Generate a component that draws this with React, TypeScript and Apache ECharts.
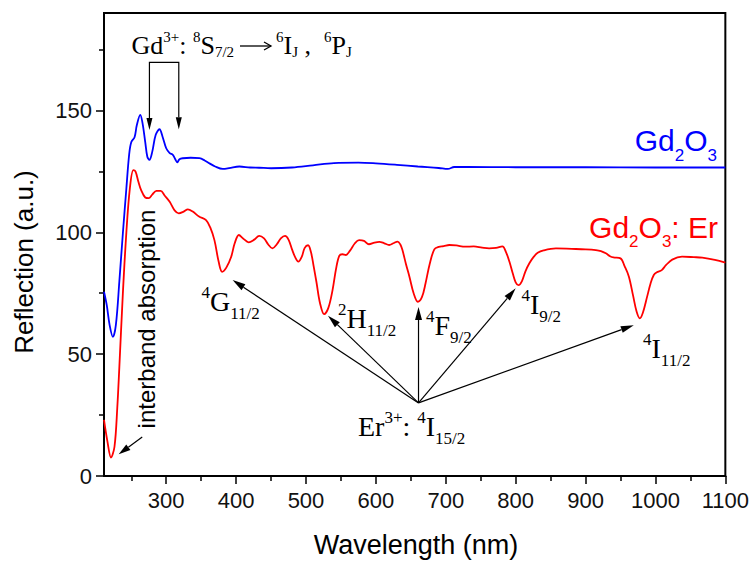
import React, { useEffect, useRef } from "react";
import * as echarts from "echarts";

// ---------- data ----------
const blueWavelength = [
  211, 215, 219, 223.7, 228, 233, 238, 243, 247, 250, 254.7, 258, 262.9, 266, 270, 273, 276, 280, 285,
  290.4, 295, 300, 305, 309.5, 313, 315.7, 319, 323.7, 335, 347.6, 355, 362, 370, 380.9, 390, 404.7,
  420, 433, 450, 480, 510, 540, 575, 600, 630, 660, 690, 703, 712, 730, 800, 900, 1000, 1100,
];
const blueReflection = [
  75.6, 70, 62, 57.1, 62, 80, 99.6, 118, 132, 137, 139, 144, 148.2, 145, 137, 131, 129.7, 133, 140,
  142.3, 139, 134.5, 132.5, 131.8, 130, 128.7, 130, 130.4, 130.6, 130.4, 129.5, 128.3, 127, 126, 126.3, 127,
  126.6, 126.5, 126.3, 126.6, 127.5, 128.4, 128.6, 128.3, 127.7, 127, 126.4, 126, 126.8, 126.8, 126.7, 126.7, 126.6, 126.6,
];

const redWavelength = [
  211, 216, 221, 226, 230, 233, 238, 243, 248, 253, 256, 260, 264, 270, 275, 280, 286, 292, 298, 305,
  312, 318, 325, 331, 338, 347, 357, 363, 369, 375, 380, 386, 393, 398, 404, 410, 418, 426, 433, 440,
  446, 452, 458, 464, 470, 475, 480, 485, 489, 494, 498, 503, 507, 511, 515, 520, 526, 532, 538, 543,
  547.6, 552, 557, 563, 570, 576, 583, 590, 598, 605, 612, 619, 625, 631, 635, 638, 643, 648, 654, 660,
  666, 671, 677, 683.6, 690, 697, 705, 715, 728, 740, 752, 762, 772, 781, 786, 791, 796, 800, 804, 809,
  814, 819.6, 826, 831.5, 840, 857.6, 880, 900, 914.7, 922, 929, 935, 940, 950, 956, 962, 968, 973, 977.6, 982,
  988, 993, 997.6, 1002, 1009, 1015, 1024, 1038, 1055, 1067, 1085, 1100,
];
const redReflection = [
  23, 14, 7.6, 12, 28, 45, 75, 100, 118, 125.5, 125, 121, 117.4, 114.3, 114, 115.5, 117, 117, 115, 112.5,
  109, 107.8, 108.5, 109.4, 108.5, 106.5, 105, 102, 96.8, 88, 83.8, 85.5, 90, 95.5, 98.9, 97.5, 95.9, 97, 98.5, 97.5,
  95, 93.4, 95, 97.5, 98.5, 97, 93, 89.5, 88, 90, 93.5, 94.7, 92, 86, 79.5, 71, 66.4, 69, 76.3, 85,
  90.3, 91, 90.7, 92.5, 95.5, 96.8, 96.5, 95.1, 95.8, 96.1, 95.5, 94.8, 95.5, 96.2, 95, 92.7, 87, 81.8, 75, 71.5,
  73.5, 79, 87, 93, 94, 94.3, 94.8, 94.6, 94.1, 94.2, 93.7, 93.4, 93.6, 94.2, 92, 88, 83, 79.5, 78.3, 80,
  84, 87.3, 90, 91.6, 92.6, 93.4, 93.2, 93, 92.7, 92.3, 91.4, 90.2, 89.7, 89.3, 86, 81.8, 74, 67.5, 64.7, 67,
  73.5, 79, 82.5, 83.6, 84.5, 86.5, 88.8, 90, 89.8, 89.6, 88.7, 87.6,
];

const xMajorTicks = [300, 400, 500, 600, 700, 800, 900, 1000, 1100];
const xMinorTicks = [250, 350, 450, 550, 650, 750, 850, 950, 1050];
const yMajorTicks = [0, 50, 100, 150];
const yMinorTicks = [25, 75, 125, 175];

const X_MIN = 211;
const X_MAX = 1100;
const Y_MIN = 0;
const Y_MAX = 190;

// annotation anchors, in data coordinates
const erOrigin = [661, 30];
const erTargets = [
  [395, 80.4],
  [531.5, 65.8],
  [661, 69.4],
  [800, 77],
  [969, 61.9],
];
const gdBracket = [
  [276, 142],
  [276, 169.7],
  [318, 169.7],
  [318, 142.3],
];
const interbandArrow = [
  [265.7, 16],
  [232, 8.9],
];

// ---------- styles ----------
const SANS = "'Liberation Sans', Arial, Helvetica, sans-serif";
const SERIF = "'Liberation Serif', 'Times New Roman', Times, serif";
const BLUE = "#0000ff";
const RED = "#ff0000";
const INK = "#000000";

function richSet(family: string, main: number, small: number, color: string, supPad: number, subPad: number) {
  return {
    m: { fontFamily: family, fontSize: main, fill: color, lineHeight: main },
    sup: { fontFamily: family, fontSize: small, fill: color, lineHeight: small, padding: [0, 0, supPad, 0] },
    sub: { fontFamily: family, fontSize: small, fill: color, lineHeight: small, padding: [subPad, 0, 0, 0] },
  };
}

function label(text: string, x: number, y: number, rich: any, align = "left", rotation = 0) {
  return {
    type: "text",
    x,
    y,
    rotation,
    silent: true,
    z: 100,
    style: {
      text,
      rich,
      align,
      textAlign: align,
      verticalAlign: "middle",
      textVerticalAlign: "middle",
    },
  };
}

function arrowHead(tip: number[], from: number[], len: number, hw: number) {
  const dx = tip[0] - from[0];
  const dy = tip[1] - from[1];
  const L = Math.hypot(dx, dy) || 1;
  const ux = dx / L;
  const uy = dy / L;
  const bx = tip[0] - ux * len;
  const by = tip[1] - uy * len;
  return {
    base: [bx, by],
    el: {
      type: "polygon",
      silent: true,
      z: 100,
      shape: {
        points: [
          [tip[0], tip[1]],
          [bx - uy * hw, by + ux * hw],
          [bx + uy * hw, by - ux * hw],
        ],
      },
      style: { fill: INK },
    },
  };
}

function arrow(p0: number[], p1: number[], len = 13, hw = 3.5) {
  const h = arrowHead(p1, p0, len, hw);
  return [
    {
      type: "line",
      silent: true,
      z: 100,
      shape: { x1: p0[0], y1: p0[1], x2: h.base[0], y2: h.base[1] },
      style: { stroke: INK, lineWidth: 1.2 },
    },
    h.el,
  ];
}

export default function App() {
  const ref = useRef<HTMLDivElement | null>(null);

  useEffect(() => {
    if (!ref.current) return;
    const chart = echarts.init(ref.current, undefined, { renderer: "svg" });

    const axisCommon = {
      axisLine: { show: true, lineStyle: { color: INK, width: 2 } },
      splitLine: { show: false },
    };

    chart.setOption({
      animation: false,
      backgroundColor: "#ffffff",
      grid: {
        left: 104,
        right: 25,
        top: 13,
        bottom: 85,
        show: true,
        borderColor: INK,
        borderWidth: 2,
        backgroundColor: "transparent",
      },
      xAxis: [
        {
          type: "value",
          min: X_MIN,
          max: X_MAX,
          ...axisCommon,
          axisTick: { show: true, length: 8, lineStyle: { color: INK, width: 1.5 }, customValues: xMajorTicks },
          axisLabel: {
            show: true,
            customValues: xMajorTicks,
            formatter: (v: number) => String(v),
            margin: 13,
            fontFamily: SANS,
            fontSize: 22,
            color: "#111",
          },
        },
        {
          type: "value",
          min: X_MIN,
          max: X_MAX,
          position: "bottom",
          axisLine: { show: false },
          splitLine: { show: false },
          axisLabel: { show: false },
          axisTick: { show: true, length: 5, lineStyle: { color: INK, width: 1.5 }, customValues: xMinorTicks },
        },
      ],
      yAxis: [
        {
          type: "value",
          min: Y_MIN,
          max: Y_MAX,
          ...axisCommon,
          axisTick: { show: true, length: 8, lineStyle: { color: INK, width: 1.5 }, customValues: yMajorTicks },
          axisLabel: {
            show: true,
            customValues: yMajorTicks,
            formatter: (v: number) => String(v),
            margin: 12,
            fontFamily: SANS,
            fontSize: 22,
            color: "#111",
          },
        },
        {
          type: "value",
          min: Y_MIN,
          max: Y_MAX,
          position: "left",
          axisLine: { show: false },
          splitLine: { show: false },
          axisLabel: { show: false },
          axisTick: { show: true, length: 5, lineStyle: { color: INK, width: 1.5 }, customValues: yMinorTicks },
        },
      ],
      series: [
        {
          name: "Gd2O3",
          type: "line",
          xAxisIndex: 0,
          yAxisIndex: 0,
          data: blueWavelength.map((w, i) => [w, blueReflection[i]]),
          showSymbol: false,
          smooth: 0.35,
          lineStyle: { color: BLUE, width: 1.8 },
          itemStyle: { color: BLUE },
          z: 3,
        },
        {
          name: "Gd2O3: Er",
          type: "line",
          xAxisIndex: 0,
          yAxisIndex: 0,
          data: redWavelength.map((w, i) => [w, redReflection[i]]),
          showSymbol: false,
          smooth: 0.35,
          lineStyle: { color: RED, width: 1.8 },
          itemStyle: { color: RED },
          z: 4,
        },
      ],
    });

    const toPx = (p: number[]) => chart.convertToPixel({ seriesIndex: 0 }, p) as number[];

    const els: any[] = [];

    // Er3+ arrows
    const o = toPx(erOrigin);
    erTargets.forEach((t) => els.push(...arrow(o, toPx(t))));

    // Gd3+ bracket with two down arrows
    const b = gdBracket.map(toPx);
    const hL = arrowHead(b[0], b[1], 12, 3);
    const hR = arrowHead(b[3], b[2], 12, 3);
    els.push({
      type: "polyline",
      silent: true,
      z: 100,
      shape: { points: [hL.base, b[1], b[2], hR.base] },
      style: { stroke: INK, lineWidth: 1.2, fill: null },
    });
    els.push(hL.el, hR.el);

    // interband absorption arrow
    els.push(...arrow(toPx(interbandArrow[0]), toPx(interbandArrow[1]), 12, 3.5));

    // texts
    const serif28 = richSet(SERIF, 28, 17, INK, 18, 24);
    const serifTop = richSet(SERIF, 26, 15, INK, 17, 14);
    const sansLegendBlue = richSet(SANS, 30, 17, BLUE, 0, 29);
    const sansLegendRed = richSet(SANS, 30, 17, RED, 0, 27);

    // top Gd3+ transition label, with a drawn reaction arrow
    els.push(label("{m|Gd}{sup|3+}{m|: }{sup|8}{m|S}{sub|7/2}", 131.5, 45, serifTop));
    els.push({
      type: "line",
      silent: true,
      z: 100,
      shape: { x1: 240, y1: 46, x2: 271, y2: 46 },
      style: { stroke: INK, lineWidth: 1.3 },
    });
    els.push({
      type: "polyline",
      silent: true,
      z: 100,
      shape: { points: [[264, 42], [271, 46], [264, 50]] },
      style: { stroke: INK, lineWidth: 1.3, fill: null },
    });
    els.push(label("{sup|6}{m|I}{sub|J}{m| ,  }{sup|6}{m|P}{sub|J}", 276, 45, serifTop));

    els.push(label("{sup|4}{m|G}{sub|11/2}", 201.5, 301.3, serif28));
    els.push(label("{sup|2}{m|H}{sub|11/2}", 338, 318, serif28));
    els.push(label("{sup|4}{m|F}{sub|9/2}", 426, 325.3, serif28));
    els.push(label("{sup|4}{m|I}{sub|9/2}", 521.5, 304.6, serif28));
    els.push(label("{sup|4}{m|I}{sub|11/2}", 643, 348, serif28));
    els.push(label("{m|Er}{sup|3+}{m|: }{sup|4}{m|I}{sub|15/2}", 358, 426.3, serif28));

    els.push(label("{m|Gd}{sub|2}{m|O}{sub|3}", 717, 140.7, sansLegendBlue, "right"));
    els.push(label("{m|Gd}{sub|2}{m|O}{sub|3}{m|: Er}", 718, 227.7, sansLegendRed, "right"));

    // interband absorption (vertical)
    els.push({
      type: "text",
      x: 146.5,
      y: 319,
      rotation: Math.PI / 2,
      silent: true,
      z: 100,
      style: {
        text: "interband absorption",
        fontFamily: SANS,
        fontSize: 24,
        fill: INK,
        align: "center",
        textAlign: "center",
        verticalAlign: "middle",
        textVerticalAlign: "middle",
      },
    });

    // axis titles
    els.push({
      type: "text",
      x: 24,
      y: 262,
      rotation: Math.PI / 2,
      silent: true,
      z: 100,
      style: {
        text: "Reflection (a.u.)",
        fontFamily: SANS,
        fontSize: 26,
        fill: INK,
        align: "center",
        textAlign: "center",
        verticalAlign: "middle",
        textVerticalAlign: "middle",
      },
    });
    els.push({
      type: "text",
      x: 416,
      y: 544.5,
      silent: true,
      z: 100,
      style: {
        text: "Wavelength (nm)",
        fontFamily: SANS,
        fontSize: 27,
        fill: INK,
        align: "center",
        textAlign: "center",
        verticalAlign: "middle",
        textVerticalAlign: "middle",
      },
    });

    chart.setOption({ graphic: { elements: els } });

    return () => {
      chart.dispose();
    };
  }, []);

  return (
    <div
      ref={ref}
      style={{ position: "fixed", left: 0, top: 0, width: 752, height: 561, background: "#fff" }}
    />
  );
}
